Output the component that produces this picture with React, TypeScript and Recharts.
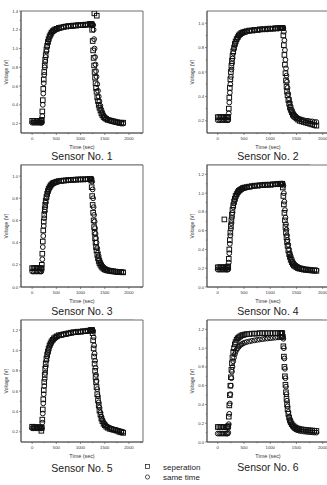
import React from "react";
import { ScatterChart, Scatter, XAxis, YAxis, ReferenceArea } from "recharts";

// sampling times (sec), shared by every sensor
const time = [
  0, 30, 60, 90, 120, 150, 175,
  190, 200, 210, 220, 230, 240, 250, 260, 270, 280,
  295, 310, 325, 340, 360, 380, 400, 425, 450, 480, 510, 550, 600,
  650, 700, 750, 800, 850, 900, 950, 1000, 1050, 1100, 1150, 1190,
  1210, 1220, 1230, 1240, 1250, 1260, 1270, 1280, 1290, 1300,
  1310, 1320, 1330, 1345, 1360, 1375, 1390, 1410, 1430, 1450, 1475, 1500,
  1530, 1560, 1600, 1640, 1680, 1720, 1760, 1800, 1840, 1880,
];

const s1Sep = [
  0.23, 0.23, 0.23, 0.23, 0.23, 0.23, 0.23,
  0.23, 0.24, 0.33, 0.45, 0.57, 0.67, 0.75, 0.82, 0.88, 0.93,
  0.99, 1.03, 1.07, 1.1, 1.13, 1.15, 1.17, 1.185, 1.195, 1.205, 1.21, 1.22, 1.225,
  1.23, 1.235, 1.24, 1.24, 1.245, 1.245, 1.25, 1.25, 1.25, 1.255, 1.255, 1.26,
  1.26, 1.26, 1.26, 1.2, 1.08, 0.98, 0.9, 0.82, 0.75, 0.69,
  0.63, 0.58, 0.54, 0.48, 0.44, 0.4, 0.37, 0.34, 0.31, 0.29, 0.27, 0.26,
  0.25, 0.24, 0.235, 0.23, 0.225, 0.22, 0.215, 0.21, 0.21, 0.21,
];
const s1Same = [
  0.21, 0.21, 0.21, 0.21, 0.21, 0.21, 0.21,
  0.21, 0.21, 0.28, 0.4, 0.52, 0.63, 0.72, 0.8, 0.86, 0.91,
  0.97, 1.02, 1.06, 1.09, 1.12, 1.145, 1.165, 1.18, 1.19, 1.2, 1.21, 1.215, 1.22,
  1.23, 1.235, 1.235, 1.24, 1.24, 1.245, 1.245, 1.25, 1.25, 1.25, 1.255, 1.255,
  1.255, 1.255, 1.255, 1.255, 1.255, 1.25, 1.2, 1.1, 1.0, 0.91,
  0.83, 0.76, 0.7, 0.62, 0.55, 0.49, 0.44, 0.39, 0.35, 0.32, 0.29, 0.27,
  0.255, 0.245, 0.235, 0.225, 0.22, 0.215, 0.21, 0.205, 0.2, 0.2,
];
// stray squares above the plateau of sensor 1
const s1SepStrayT = [1285, 1335];
const s1SepStrayV = [1.375, 1.35];

const s2Sep = [
  0.23, 0.23, 0.23, 0.23, 0.23, 0.23, 0.23,
  0.23, 0.23, 0.3, 0.39, 0.47, 0.54, 0.6, 0.65, 0.69, 0.73,
  0.77, 0.8, 0.83, 0.85, 0.87, 0.885, 0.9, 0.91, 0.92, 0.925, 0.93, 0.935, 0.94,
  0.94, 0.945, 0.945, 0.95, 0.95, 0.95, 0.955, 0.955, 0.955, 0.96, 0.96, 0.96,
  0.96, 0.96, 0.96, 0.96, 0.9, 0.82, 0.74, 0.66, 0.59, 0.53,
  0.48, 0.44, 0.41, 0.37, 0.34, 0.31, 0.29, 0.27, 0.25, 0.24, 0.23, 0.22,
  0.21, 0.2, 0.195, 0.19, 0.185, 0.18, 0.175, 0.17, 0.165, 0.16,
];
const s2Same = [
  0.205, 0.205, 0.205, 0.205, 0.205, 0.205, 0.205,
  0.205, 0.205, 0.26, 0.35, 0.43, 0.5, 0.56, 0.62, 0.67, 0.71,
  0.755, 0.79, 0.82, 0.84, 0.865, 0.88, 0.895, 0.905, 0.915, 0.92, 0.925, 0.93, 0.935,
  0.94, 0.94, 0.945, 0.945, 0.95, 0.95, 0.95, 0.955, 0.955, 0.955, 0.955, 0.96,
  0.96, 0.96, 0.96, 0.96, 0.96, 0.93, 0.86, 0.78, 0.7, 0.63,
  0.57, 0.52, 0.47, 0.42, 0.38, 0.35, 0.32, 0.29, 0.27, 0.255, 0.24, 0.23,
  0.22, 0.215, 0.21, 0.205, 0.2, 0.2, 0.195, 0.195, 0.19, 0.19,
];

const s3Sep = [
  0.17, 0.17, 0.17, 0.17, 0.17, 0.17, 0.17,
  0.17, 0.2, 0.3, 0.41, 0.51, 0.59, 0.65, 0.7, 0.74, 0.775,
  0.81, 0.84, 0.865, 0.885, 0.9, 0.915, 0.925, 0.935, 0.94, 0.945, 0.95, 0.955, 0.958,
  0.96, 0.962, 0.965, 0.965, 0.967, 0.968, 0.97, 0.97, 0.97, 0.972, 0.972, 0.975,
  0.975, 0.96, 0.9, 0.82, 0.74, 0.67, 0.6, 0.54, 0.49, 0.44,
  0.4, 0.36, 0.33, 0.29, 0.26, 0.235, 0.215, 0.2, 0.185, 0.175, 0.165, 0.158,
  0.152, 0.148, 0.145, 0.142, 0.14, 0.138, 0.136, 0.135, 0.133, 0.132,
];
const s3Same = [
  0.14, 0.14, 0.14, 0.14, 0.14, 0.14, 0.14,
  0.14, 0.16, 0.25, 0.36, 0.46, 0.55, 0.62, 0.68, 0.72, 0.76,
  0.8, 0.83, 0.855, 0.875, 0.895, 0.91, 0.92, 0.93, 0.938, 0.943, 0.948, 0.952, 0.956,
  0.958, 0.96, 0.962, 0.964, 0.966, 0.967, 0.968, 0.97, 0.97, 0.97, 0.972, 0.972,
  0.975, 0.975, 0.975, 0.95, 0.88, 0.8, 0.72, 0.65, 0.59, 0.53,
  0.48, 0.44, 0.4, 0.35, 0.31, 0.28, 0.25, 0.225, 0.205, 0.19, 0.178, 0.168,
  0.16, 0.155, 0.15, 0.146, 0.143, 0.14, 0.138, 0.136, 0.135, 0.133,
];

const s4Sep = [
  0.21, 0.21, 0.21, 0.21, 0.21, 0.21, 0.21,
  0.21, 0.22, 0.3, 0.4, 0.5, 0.58, 0.65, 0.71, 0.77, 0.82,
  0.87, 0.91, 0.94, 0.97, 0.99, 1.01, 1.025, 1.035, 1.045, 1.055, 1.06, 1.065, 1.07,
  1.075, 1.08, 1.08, 1.085, 1.085, 1.09, 1.09, 1.09, 1.095, 1.095, 1.1, 1.1,
  1.1, 1.1, 1.1, 1.06, 0.97, 0.88, 0.79, 0.71, 0.64, 0.58,
  0.53, 0.48, 0.44, 0.39, 0.35, 0.32, 0.29, 0.265, 0.245, 0.23, 0.22, 0.21,
  0.2, 0.195, 0.19, 0.185, 0.182, 0.18, 0.178, 0.175, 0.173, 0.172,
];
const s4Same = [
  0.185, 0.185, 0.185, 0.185, 0.185, 0.185, 0.185,
  0.185, 0.19, 0.26, 0.36, 0.46, 0.55, 0.62, 0.68, 0.74, 0.79,
  0.85, 0.89, 0.925, 0.955, 0.98, 1.0, 1.015, 1.03, 1.04, 1.05, 1.055, 1.06, 1.065,
  1.07, 1.075, 1.08, 1.08, 1.085, 1.085, 1.09, 1.09, 1.09, 1.095, 1.095, 1.1,
  1.1, 1.1, 1.1, 1.1, 1.08, 1.0, 0.91, 0.82, 0.74, 0.67,
  0.61, 0.55, 0.5, 0.45, 0.4, 0.36, 0.33, 0.3, 0.27, 0.25, 0.235, 0.225,
  0.215, 0.205, 0.2, 0.195, 0.19, 0.188, 0.185, 0.183, 0.181, 0.18,
];
const s4SepStrayT = [126];
const s4SepStrayV = [0.72];

const s5Sep = [
  0.25, 0.25, 0.245, 0.245, 0.245, 0.245, 0.245,
  0.21, 0.24, 0.32, 0.42, 0.52, 0.61, 0.69, 0.76, 0.82, 0.87,
  0.92, 0.96, 0.99, 1.02, 1.05, 1.07, 1.09, 1.105, 1.12, 1.13, 1.14, 1.15, 1.155,
  1.16, 1.165, 1.17, 1.175, 1.18, 1.18, 1.185, 1.185, 1.19, 1.19, 1.195, 1.195,
  1.2, 1.2, 1.2, 1.2, 1.17, 1.1, 1.02, 0.94, 0.87, 0.8,
  0.74, 0.69, 0.64, 0.57, 0.51, 0.46, 0.41, 0.37, 0.33, 0.305, 0.28, 0.265,
  0.25, 0.24, 0.23, 0.225, 0.22, 0.215, 0.21, 0.2, 0.195, 0.19,
];
const s5Same = [
  0.235, 0.235, 0.235, 0.235, 0.235, 0.235, 0.235,
  0.235, 0.235, 0.29, 0.38, 0.48, 0.57, 0.65, 0.72, 0.78, 0.84,
  0.9, 0.94, 0.975, 1.005, 1.035, 1.06, 1.08, 1.1, 1.11, 1.125, 1.135, 1.145, 1.15,
  1.155, 1.16, 1.165, 1.17, 1.175, 1.18, 1.18, 1.185, 1.185, 1.19, 1.19, 1.195,
  1.195, 1.2, 1.2, 1.2, 1.2, 1.19, 1.13, 1.05, 0.97, 0.9,
  0.83, 0.76, 0.7, 0.62, 0.55, 0.49, 0.44, 0.39, 0.35, 0.32, 0.295, 0.275,
  0.26, 0.25, 0.24, 0.232, 0.225, 0.22, 0.215, 0.21, 0.205, 0.2,
];

const s6Sep = [
  0.16, 0.16, 0.16, 0.16, 0.16, 0.16, 0.16,
  0.16, 0.17, 0.27, 0.39, 0.5, 0.6, 0.69, 0.77, 0.84, 0.9,
  0.96, 1.0, 1.04, 1.065, 1.09, 1.105, 1.115, 1.125, 1.135, 1.14, 1.145, 1.15, 1.15,
  1.155, 1.155, 1.155, 1.16, 1.16, 1.16, 1.16, 1.16, 1.16, 1.16, 1.16, 1.16,
  1.16, 1.16, 1.16, 1.12, 1.02, 0.91, 0.8, 0.7, 0.61, 0.53,
  0.46, 0.4, 0.35, 0.3, 0.26, 0.23, 0.21, 0.19, 0.175, 0.165, 0.155, 0.148,
  0.142, 0.138, 0.134, 0.131, 0.128, 0.126, 0.124, 0.122, 0.12, 0.118,
];
const s6Same = [
  0.09, 0.09, 0.09, 0.09, 0.09, 0.09, 0.09,
  0.09, 0.1, 0.19, 0.3, 0.41, 0.51, 0.6, 0.68, 0.75, 0.8,
  0.86, 0.9, 0.935, 0.96, 0.985, 1.0, 1.015, 1.03, 1.04, 1.05, 1.058, 1.065, 1.072,
  1.078, 1.083, 1.088, 1.092, 1.096, 1.1, 1.103, 1.106, 1.109, 1.112, 1.115, 1.117,
  1.118, 1.12, 1.12, 1.12, 1.1, 1.0, 0.89, 0.78, 0.68, 0.59,
  0.51, 0.44, 0.38, 0.32, 0.27, 0.235, 0.21, 0.185, 0.165, 0.15, 0.138, 0.13,
  0.124, 0.119, 0.115, 0.112, 0.109, 0.107, 0.105, 0.103, 0.101, 0.1,
];

const xTicksLeft = [0, 250, 500, 750, 1000, 1250, 1500, 1750, 2000, 2250];
const xTicksRight = [0, 250, 500, 750, 1000, 1250, 1500, 1750, 2000];
const yTicks1 = [0.2, 0.3, 0.4, 0.5, 0.6, 0.7, 0.8, 0.9, 1.0, 1.1, 1.2, 1.3, 1.4];
const yTicks2 = [0.2, 0.3, 0.4, 0.5, 0.6, 0.7, 0.8, 0.9, 1.0];
const yTicks3 = [0.0, 0.1, 0.2, 0.3, 0.4, 0.5, 0.6, 0.7, 0.8, 0.9, 1.0];
const yTicks4 = [0.0, 0.1, 0.2, 0.3, 0.4, 0.5, 0.6, 0.7, 0.8, 0.9, 1.0, 1.1, 1.2];
const yTicks5 = [0.2, 0.3, 0.4, 0.5, 0.6, 0.7, 0.8, 0.9, 1.0, 1.1, 1.2];

const legendNames = ["seperation", "same time"];

const FONT = '"Liberation Sans", Arial, sans-serif';
const INK = "#101010";
const AXIS = "#4a4a4a";

const BOX_W = 122;
const BOX_H = 122;
const COL_LEFT = [21, 207];
const ROW_TOP = [11, 165, 320];
const TITLE_Y = [155.5, 311, 468];
const X_DOMAIN = [
  [-230, 2290],
  [-205, 2120],
];

const pts = (ts: number[], vs: number[]) => ts.map((t, i) => ({ t, v: vs[i] }));

const panels = [
  { n: 1, col: 0, row: 0, y: [0.1, 1.4], yTicks: yTicks1, sep: [...pts(time, s1Sep), ...pts(s1SepStrayT, s1SepStrayV)], same: pts(time, s1Same) },
  { n: 2, col: 1, row: 0, y: [0.1, 1.1], yTicks: yTicks2, sep: pts(time, s2Sep), same: pts(time, s2Same) },
  { n: 3, col: 0, row: 1, y: [0, 1.1], yTicks: yTicks3, sep: pts(time, s3Sep), same: pts(time, s3Same) },
  { n: 4, col: 1, row: 1, y: [0, 1.3], yTicks: yTicks4, sep: [...pts(time, s4Sep), ...pts(s4SepStrayT, s4SepStrayV)], same: pts(time, s4Same) },
  { n: 5, col: 0, row: 2, y: [0.1, 1.3], yTicks: yTicks5, sep: pts(time, s5Sep), same: pts(time, s5Same) },
  { n: 6, col: 1, row: 2, y: [0, 1.3], yTicks: yTicks4, sep: pts(time, s6Sep), same: pts(time, s6Same) },
];

const SquareDot = (p: any) => (
  <rect x={p.cx - 2.3} y={p.cy - 2.3} width={4.6} height={4.6} fill="none" stroke={INK} strokeWidth={1} />
);
const CircleDot = (p: any) => (
  <circle cx={p.cx} cy={p.cy} r={2.4} fill="none" stroke={INK} strokeWidth={1} />
);

const XTick = (props: any) => {
  const { x, y, payload } = props;
  const major = payload.value % 500 === 0;
  return (
    <g>
      <line x1={x} x2={x} y1={y} y2={y + (major ? 2 : 1.2)} stroke={AXIS} strokeWidth={0.6} />
      {major && (
        <text x={x} y={y + 6.6} textAnchor="middle" fontSize={4.2} fill="#333" fontFamily={FONT}>
          {payload.value}
        </text>
      )}
    </g>
  );
};

const YTick = (props: any) => {
  const { x, y, payload } = props;
  const major = Math.round(payload.value * 10) % 2 === 0;
  return (
    <g>
      <line x1={x - (major ? 2 : 1.2)} x2={x} y1={y} y2={y} stroke={AXIS} strokeWidth={0.6} />
      {major && (
        <text x={x - 3} y={y + 1.5} textAnchor="end" fontSize={4.2} fill="#333" fontFamily={FONT}>
          {payload.value.toFixed(1)}
        </text>
      )}
    </g>
  );
};

const YW = 22;
const MT = 3;
const MR = 3;
const XH = 12;

function Panel({ p }: { p: (typeof panels)[number] }) {
  const left = COL_LEFT[p.col];
  const top = ROW_TOP[p.row];
  const xd = X_DOMAIN[p.col];
  const cx = left + BOX_W / 2;
  return (
    <>
      <div style={{ position: "absolute", left: left - YW, top: top - MT }}>
        <ScatterChart
          width={YW + BOX_W + MR}
          height={MT + BOX_H + XH}
          margin={{ top: MT, right: MR, left: 0, bottom: 0 }}
        >
          <XAxis
            type="number"
            dataKey="t"
            domain={xd}
            allowDataOverflow
            ticks={p.col === 0 ? xTicksLeft : xTicksRight}
            interval={0}
            tick={<XTick />}
            tickLine={false}
            tickSize={0}
            tickMargin={0}
            axisLine={{ stroke: AXIS, strokeWidth: 0.8 }}
            height={XH}
          />
          <YAxis
            type="number"
            dataKey="v"
            domain={p.y}
            allowDataOverflow
            ticks={p.yTicks}
            interval={0}
            tick={<YTick />}
            tickLine={false}
            tickSize={0}
            tickMargin={0}
            axisLine={{ stroke: AXIS, strokeWidth: 0.8 }}
            width={YW}
          />
          <Scatter data={p.sep} shape={SquareDot} isAnimationActive={false} />
          <Scatter data={p.same} shape={CircleDot} isAnimationActive={false} />
          <ReferenceArea
            x1={xd[0]}
            x2={xd[1]}
            y1={p.y[0]}
            y2={p.y[1]}
            fill="none"
            fillOpacity={0}
            stroke={AXIS}
            strokeWidth={0.8}
          />
        </ScatterChart>
      </div>
      <div
        style={{
          position: "absolute",
          left: left - 15,
          top: top + BOX_H / 2,
          transform: "translate(-50%, -50%) rotate(-90deg)",
          fontSize: 5,
          color: "#333",
          whiteSpace: "nowrap",
        }}
      >
        Voltage (V)
      </div>
      <div
        style={{
          position: "absolute",
          left: cx,
          top: top + BOX_H + 14,
          transform: "translate(-50%, -50%)",
          fontSize: 5.4,
          color: "#333",
          whiteSpace: "nowrap",
        }}
      >
        Time (sec)
      </div>
      <div
        style={{
          position: "absolute",
          left: cx,
          top: TITLE_Y[p.row] - (p.col === 1 && p.row === 2 ? 1 : 0),
          transform: "translate(-50%, -50%)",
          fontSize: 10.5,
          color: "#222",
          whiteSpace: "nowrap",
        }}
      >
        Sensor No. {p.n}
      </div>
    </>
  );
}

export default function App() {
  return (
    <div
      style={{
        position: "absolute",
        left: 0,
        top: 0,
        width: 327,
        height: 485,
        overflow: "hidden",
        background: "#fff",
        fontFamily: FONT,
      }}
    >
      {/* faint frame edges from the scanned page */}
      <div style={{ position: "absolute", left: 20, top: 164, width: 123, height: 1, background: "#c8c8c8" }} />
      <div style={{ position: "absolute", left: 206, top: 164, width: 104, height: 1, background: "#c8c8c8" }} />
      <div style={{ position: "absolute", left: 20, top: 319, width: 113, height: 1, background: "#dcdcdc" }} />
      <div style={{ position: "absolute", left: 207, top: 319, width: 115, height: 1, background: "#dcdcdc" }} />

      {panels.map((p) => (
        <Panel key={p.n} p={p} />
      ))}

      {/* legend */}
      <svg style={{ position: "absolute", left: 143, top: 462 }} width={10} height={20}>
        <rect x={2.5} y={2.5} width={4} height={4} fill="none" stroke={INK} strokeWidth={0.7} />
        <circle cx={4.5} cy={15} r={2.1} fill="none" stroke={INK} strokeWidth={0.7} />
      </svg>
      {legendNames.map((name, i) => (
        <div
          key={name}
          style={{
            position: "absolute",
            left: 163,
            top: 466.5 + i * 10.5,
            transform: "translateY(-50%)",
            fontSize: 8,
            color: "#222",
            whiteSpace: "nowrap",
          }}
        >
          {name}
        </div>
      ))}
    </div>
  );
}
